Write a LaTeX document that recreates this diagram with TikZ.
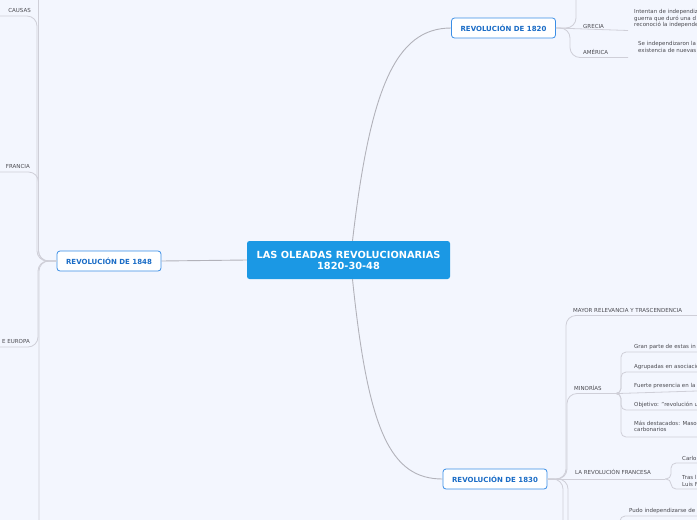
\documentclass[tikz,border=0pt]{standalone}
\usepackage{fontspec}
\setmainfont{DejaVu Sans}
\definecolor{bgblue}{HTML}{F3F6FE}
\definecolor{rootblue}{HTML}{1B98E4}
\definecolor{topicblue}{HTML}{3A8EE6}
\definecolor{topictext}{HTML}{1A6CC6}
\definecolor{labelgray}{HTML}{4A4A50}
\definecolor{maingray}{HTML}{B2B2BA}
\definecolor{subgray}{HTML}{CFCFD8}

\begin{document}
\begin{tikzpicture}[x=1pt, y=-1pt,
  root/.style={rectangle, fill=rootblue, rounded corners=2.5pt,
               minimum width=203pt, minimum height=38pt, text=white,
               font=\bfseries\fontsize{9.8}{11}\selectfont, align=center,
               inner sep=0pt},
  topic/.style={rectangle, draw=topicblue, line width=0.8pt, fill=white,
                rounded corners=3pt, minimum width=104pt, minimum height=20pt,
                text=topictext, font=\bfseries\fontsize{7}{8}\selectfont,
                inner sep=0pt},
  label/.style={font=\fontsize{5.5}{6.2}\selectfont, text=labelgray,
                inner sep=0pt},
  desc/.style={label, align=left, anchor=north west},
  mainline/.style={draw=maingray, line width=0.9pt},
  subline/.style={draw=subgray, line width=0.8pt, rounded corners=10pt},
  leafline/.style={subline, rounded corners=5pt}
]
  \fill[bgblue] (0,0) rectangle (697,520);
  \useasboundingbox (0,0) rectangle (697,520);
  \clip (0,0) rectangle (697,520);

  % central topic and the three waves
  \node[root]  (root)  at (348.5,260) {LAS OLEADAS REVOLUCIONARIAS\\1820-30-48};
  \node[topic] (r1848) at (109,261)   {REVOLUCIÓN DE 1848};
  \node[topic] (r1820) at (503.5,28)  {REVOLUCIÓN DE 1820};
  \node[topic] (r1830) at (495,479)   {REVOLUCIÓN DE 1830};

  \draw[mainline] (root.west) -- (r1848.east);
  \draw[mainline] ([xshift=4pt]root.north) .. controls (370,90) and (395,28) .. (r1820.west);
  \draw[mainline] ([xshift=4pt]root.south) .. controls (368,430) and (390,479) .. (r1830.west);

  % 1848
  \node[label, anchor=base east] (causas)  at (31,12.5)  {CAUSAS};
  \node[label, anchor=base east] (francia) at (30,168)   {FRANCIA};
  \node[label, anchor=base east] (europa)  at (30,343)   {E EUROPA};

  \draw[subline] (r1848.west) -| (38.5,-30);
  \draw[subline] (r1848.west) -| (37,16) -- (0,16);
  \draw[subline] (r1848.west) -| (38.5,172) -- (0,172);
  \draw[subline] (r1848.west) -| (38,347) -- (0,347);
  \draw[subline] (r1848.west) -| (39,560);

  % 1820
  \node[label, anchor=base west] (grecia)  at (583,28)  {GRECIA};
  \node[label, anchor=base west] (america) at (583,54)  {AMÉRICA};
  \node[desc] (grecia_txt) at (634,9.5)
    {Intentan de independiz\\guerra que duró una d\\reconoció la independe};
  \node[desc] (america_txt) at (638,41.5)
    {Se independizaron la\\existencia de nuevas};

  \draw[subline] (r1820.east) -| (576,-30);
  \draw[subline] (r1820.east) -- (628,30.5);
  \draw[subline] (r1820.east) -| (570,57.5) -- (628,57.5);

  % 1830
  \node[label, anchor=base west] (mayor)   at (573,312) {MAYOR RELEVANCIA Y TRASCENDENCIA};
  \node[label, anchor=base west] (minor)   at (574,390) {MINORÍAS};
  \node[label, anchor=base west] (francesa) at (575,474.5) {LA REVOLUCIÓN FRANCESA};

  \draw[subline] (r1830.east) -| (566,315.5) -- (697,315.5);
  \draw[subline] (r1830.east) -| (567,393.5) -- (618,393.5);
  \draw[subline] (r1830.east) -- (665,479);
  \draw[subline] (r1830.east) -| (563,560);
  \draw[subline] (r1830.east) -| (568,560);

  % minorias
  \node[label, anchor=base west] (min_a) at (634,348) {Gran parte de estas in};
  \node[label, anchor=base west] (min_b) at (634,368) {Agrupadas en asociació};
  \node[label, anchor=base west] (min_c) at (634,387) {Fuerte presencia en la};
  \node[label, anchor=base west] (min_d) at (634,406) {Objetivo: "revolución u};
  \node[desc] (min_e) at (634,420.5) {Más destacados: Maso\\carbonarios};

  \draw[leafline] (618,393.5) -| (621,352) -- (697,352);
  \draw[leafline] (618,393.5) -| (621,372) -- (697,372);
  \draw[leafline] (618,393.5) -- (697,391);
  \draw[leafline] (618,393.5) -| (621,410) -- (697,410);
  \draw[leafline] (618,393.5) -| (621,437) -- (697,437);

  % revolucion francesa
  \node[label, anchor=base west] (carlos) at (682,460) {Carlo};
  \node[desc] (tras) at (682,475.5) {Tras l\\Luis F};

  \draw[leafline] (665,479) -| (671,463) -- (697,463);
  \draw[leafline] (665,479) -| (671,489) -- (697,489);

  % lower branch
  \node[label, anchor=base west] (pudo) at (629,512) {Pudo independizarse de l};
  \draw[leafline] (620,540) |- (697,516);
\end{tikzpicture}
\end{document}
